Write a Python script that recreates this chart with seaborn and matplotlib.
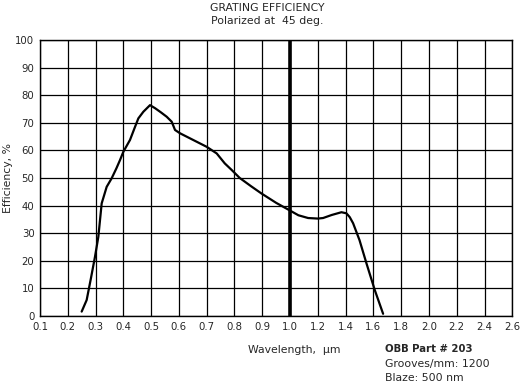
import matplotlib
matplotlib.use("Agg")
import matplotlib.pyplot as plt
import seaborn as sns
import numpy as np
import pandas as pd

# wavelength (um) and efficiency (%)
wavelength = [0.25, 0.268, 0.283, 0.298, 0.31, 0.322, 0.34, 0.358, 0.375, 0.388,
              0.40, 0.424, 0.44, 0.454, 0.472, 0.496, 0.514, 0.535, 0.556, 0.574,
              0.586, 0.604, 0.651, 0.70, 0.736, 0.765, 0.79, 0.819, 0.86, 0.897,
              0.95, 1.0, 1.06, 1.13, 1.2, 1.238, 1.3, 1.37, 1.406, 1.43,
              1.454, 1.50, 1.55, 1.61, 1.67]
efficiency = [1.6, 5.8, 13.5, 21.5, 28.7, 40.8, 46.8, 49.9, 53.5, 56.5,
              59.5, 63.8, 68.0, 71.6, 74.0, 76.4, 75.3, 73.8, 72.2, 70.4,
              67.4, 66.2, 63.8, 61.3, 58.9, 55.3, 52.9, 50.0, 47.0, 44.4,
              41.0, 38.2, 36.5, 35.5, 35.3, 35.5, 36.6, 37.6, 37.2, 35.8,
              33.6, 27.5, 19.1, 9.4, 0.8]

x_ticks = [0.1, 0.2, 0.3, 0.4, 0.5, 0.6, 0.7, 0.8, 0.9, 1.0,
           1.2, 1.4, 1.6, 1.8, 2.0, 2.2, 2.4, 2.6]
x_labels = ["0.1", "0.2", "0.3", "0.4", "0.5", "0.6", "0.7", "0.8", "0.9", "1.0",
            "1.2", "1.4", "1.6", "1.8", "2.0", "2.2", "2.4", "2.6"]
y_ticks = list(range(0, 101, 10))
marker_wl = 1.0

df = pd.DataFrame({"Wavelength": wavelength, "Efficiency": efficiency})


# axis is 0.1 per division up to 1.0, then 0.2 per division
def fwd(x):
    x = np.asarray(x, dtype=float)
    return np.where(x <= 1.0, (x - 0.1) / 0.1, 9 + (x - 1.0) / 0.2)


def inv(u):
    u = np.asarray(u, dtype=float)
    return np.where(u <= 9, 0.1 + u * 0.1, 1.0 + (u - 9) * 0.2)


sns.set_style("white")
plt.rcParams["font.family"] = ["DejaVu Sans"]

fig = plt.figure(figsize=(5.22, 3.85), dpi=100)
ax = fig.add_axes([40 / 522, 1 - 316 / 385, (512.3 - 40) / 522, (316 - 40) / 385])
ax.set_xscale("function", functions=(fwd, inv))

for xt in x_ticks:
    ax.axvline(xt, color="black", lw=0.9, zorder=1)
for yt in y_ticks:
    ax.axhline(yt, color="black", lw=0.9, zorder=1)
ax.axvline(marker_wl, color="black", lw=2.6, zorder=2)

sns.lineplot(data=df, x="Wavelength", y="Efficiency", ax=ax, color="black",
             lw=1.6, zorder=3)

ax.set_xlim(0.1, 2.6)
ax.set_ylim(0, 100)
ax.set_xticks(x_ticks)
ax.set_xticklabels(x_labels, fontsize=7.3)
ax.set_yticks(y_ticks)
ax.set_yticklabels([str(v) for v in y_ticks], fontsize=7.3)
ax.tick_params(length=0, pad=4)
ax.minorticks_off()
ax.set_xlabel("")
ax.set_ylabel("")
for s in ax.spines.values():
    s.set_color("black")
    s.set_linewidth(1.0)

fig.text(267 / 522, 1 - 8 / 385, "GRATING EFFICIENCY", ha="center", va="center", fontsize=7.8)
fig.text(267 / 522, 1 - 21 / 385, "Polarized at  45 deg.", ha="center", va="center", fontsize=7.8)
fig.text(8 / 522, 1 - 178 / 385, "Efficiency, %", rotation=90, ha="center", va="center", fontsize=7.8)
fig.text(294 / 522, 1 - 350 / 385, "Wavelength,  µm", ha="center", va="center", fontsize=7.8)
fig.text(385 / 522, 1 - 349 / 385, "OBB Part # 203", ha="left", va="center", fontsize=7.3,
         fontweight="bold")
fig.text(385 / 522, 1 - 364 / 385, "Grooves/mm: 1200", ha="left", va="center", fontsize=7.8)
fig.text(385 / 522, 1 - 378 / 385, "Blaze: 500 nm", ha="left", va="center", fontsize=7.8)

fig.savefig("out.png", dpi=100)
